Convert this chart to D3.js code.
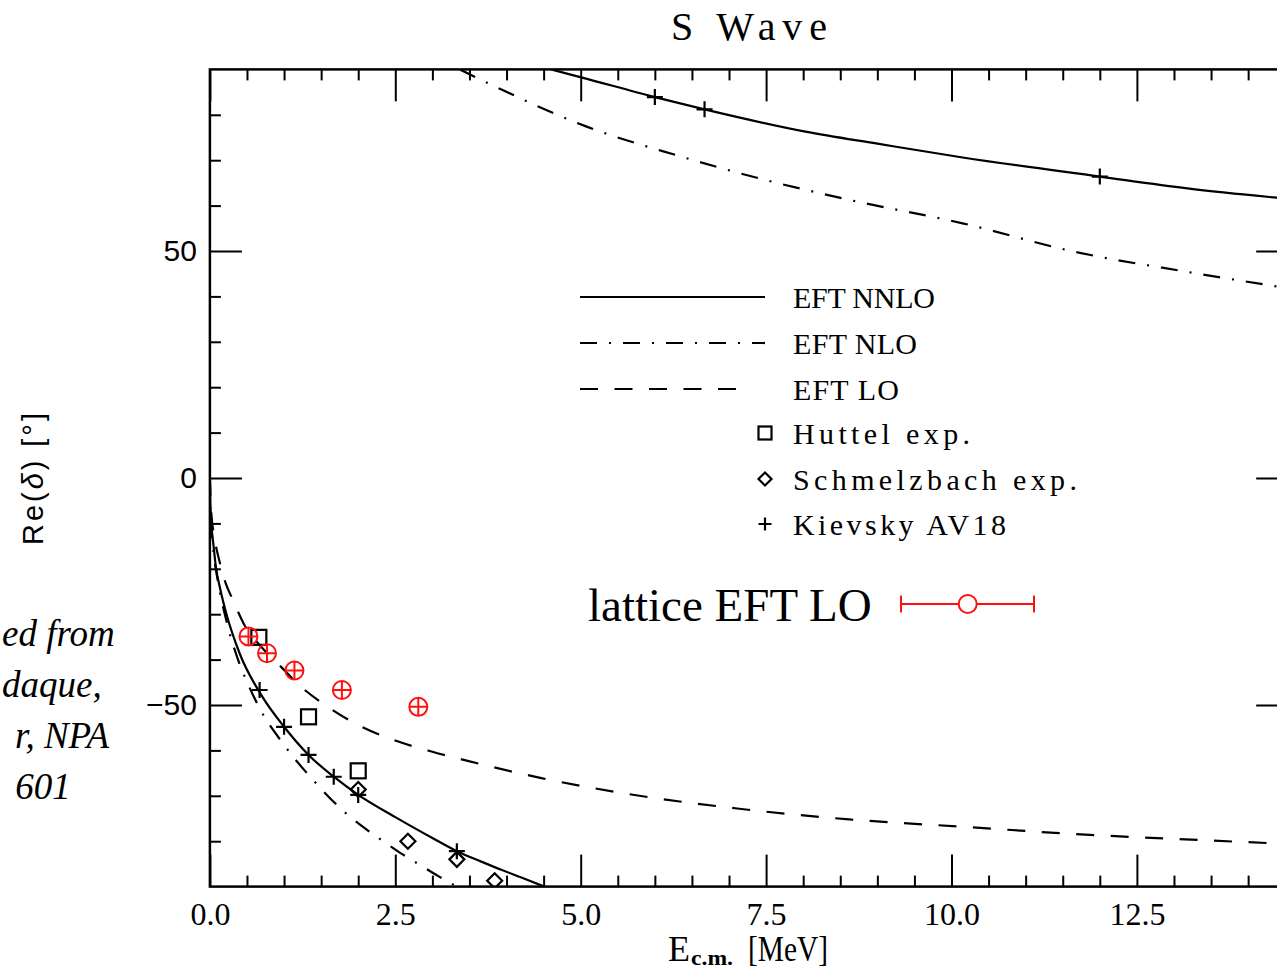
<!DOCTYPE html>
<html>
<head>
<meta charset="utf-8">
<script src="https://cdn.jsdelivr.net/npm/d3@7"></script>
<style>
  html, body { margin: 0; padding: 0; background: #fff; }
  svg { display: block; }
</style>
</head>
<body>
<svg id="chart" width="1277" height="973"></svg>
<script>
// ---- axis settings ----
const xMax = 14.54;
const yMin = -90, yMax = 90;
const xTicksMajor = [0, 2.5, 5, 7.5, 10, 12.5];
const xTickLabels = ["0.0", "2.5", "5.0", "7.5", "10.0", "12.5"];
const yTicksMajor = [-50, 0, 50];
const yTickLabels = ["\u221250", "0", "50"];

// ---- EFT curves: [E_cm (MeV), Re(delta) (deg)] ----
const eftNNLOLow = [[0,0],[0.005,-5],[0.02,-10],[0.05,-15],[0.08,-19.5],[0.14,-24.5],[0.22,-29.8],[0.4,-38.6],[0.7,-48],[1.0,-54.8],[1.33,-61],[1.67,-65.8],[2.0,-69.8],[2.5,-74.7],[3.0,-79.3],[3.33,-82.2],[3.66,-84.5],[3.93,-86.3],[4.2,-88],[4.51,-90]];
const eftNNLOHigh = [[4.6,90],[5.02,88.2],[6.0,83.9],[6.67,81.2],[8.03,76.3],[9.02,73.6],[10.15,70.6],[12.0,66.4],[13.18,63.8],[14.54,61.5]];
const eftNLOLow = [[0,0],[0.005,-5.5],[0.02,-11],[0.05,-16.5],[0.1,-22],[0.22,-31.3],[0.39,-40.5],[0.53,-46],[0.67,-50.7],[1.0,-58.8],[1.39,-66.5],[1.81,-73.5],[2.06,-76.8],[2.31,-79.7],[2.56,-82.5],[2.83,-85.2],[3.08,-87.7],[3.33,-90]];
const eftNLOHigh = [[3.37,90],[3.94,85.5],[5.08,77.4],[6.29,71.1],[7.5,65.6],[8.64,61.2],[10.15,56.1],[11.67,49.8],[13.18,45.4],[14.54,41.8]];
const eftLO = [[0,0],[0.005,-4],[0.02,-8],[0.06,-13],[0.13,-18.4],[0.22,-23.5],[0.3,-26.5],[0.46,-32.2],[0.71,-37.5],[0.96,-41.6],[1.23,-46],[1.59,-50.4],[1.95,-54],[2.53,-58],[3.0,-60.3],[3.45,-62.2],[4.47,-66.1],[5.6,-69.5],[7.11,-72.8],[8.62,-75.2],[10.13,-76.8],[11.64,-78.4],[13.15,-79.6],[14.54,-80.6]];

// ---- data points ----
const huttelE = [0.66, 1.33, 2.0];
const huttelD = [-35.1, -52.6, -64.5];
const schmelzE = [2.0, 2.67, 3.33, 3.84];
const schmelzD = [-68.6, -80, -84, -88.7];
const kievskyE = [0.67, 1.0, 1.33, 1.67, 2.0, 3.33, 6.0, 6.67, 12.0];
const kievskyD = [-46.7, -54.8, -61, -65.8, -69.8, -82.2, 83.9, 81.2, 66.4];
const latticeE = [0.52, 0.77, 1.14, 1.78, 2.81];
const latticeD = [-34.9, -38.6, -42.4, -46.7, -50.4];

const legendLines = ["EFT NNLO", "EFT NLO", "EFT LO"];
const legendMarkers = ["Huttel exp.", "Schmelzbach exp.", "Kievsky AV18"];

// ---- layout ----
const svg = d3.select("#chart");
const plotLeft = 209.9, plotTop = 69.4, pxPerMeV = 74.16, plotBottom = 886.6;
const x = d3.scaleLinear().domain([0, xMax]).range([plotLeft, plotLeft + xMax * pxPerMeV]);
const y = d3.scaleLinear().domain([yMin, yMax]).range([plotBottom, plotTop]);
const plotRight = x(xMax);

svg.append("rect").attr("width", 1277).attr("height", 973).attr("fill", "#fff");

svg.append("defs").append("clipPath").attr("id", "plotclip")
  .append("rect").attr("x", plotLeft).attr("y", plotTop)
  .attr("width", plotRight - plotLeft).attr("height", plotBottom - plotTop);

const black = "#000";
const red = "#ff1010";

// ---- axes ----
const minorX = d3.range(0, xMax + 1e-9, 0.5).filter(v => !xTicksMajor.includes(v));
const minorY = d3.range(-90, 90.001, 10).filter(v => !yTicksMajor.includes(v) && v > -90 && v < 90);

function styleAxis(g) {
  g.select(".domain").remove();
  g.selectAll(".tick line").attr("stroke", black).attr("stroke-width", 2);
}

const gxB = svg.append("g").attr("transform", `translate(0,${plotBottom})`)
  .call(d3.axisBottom(x).tickValues(xTicksMajor).tickSize(-32).tickPadding(16)
    .tickFormat((d, i) => xTickLabels[i]));
styleAxis(gxB);
gxB.selectAll("text").attr("font-family", "Liberation Serif, serif").attr("font-size", 32).attr("fill", black);

svg.append("g").attr("transform", `translate(0,${plotBottom})`)
  .call(d3.axisBottom(x).tickValues(minorX).tickSize(-11).tickFormat("")).call(styleAxis);
svg.append("g").attr("transform", `translate(0,${plotTop})`)
  .call(d3.axisTop(x).tickValues(xTicksMajor).tickSize(-32).tickFormat("")).call(styleAxis);
svg.append("g").attr("transform", `translate(0,${plotTop})`)
  .call(d3.axisTop(x).tickValues(minorX).tickSize(-11).tickFormat("")).call(styleAxis);

const gyL = svg.append("g").attr("transform", `translate(${plotLeft},0)`)
  .call(d3.axisLeft(y).tickValues(yTicksMajor).tickSize(-32).tickPadding(13)
    .tickFormat(d => yTickLabels[yTicksMajor.indexOf(d)]));
styleAxis(gyL);
gyL.selectAll("text").attr("font-family", "Liberation Sans, Arial, sans-serif").attr("font-size", 30).attr("fill", black);

svg.append("g").attr("transform", `translate(${plotLeft},0)`)
  .call(d3.axisLeft(y).tickValues(minorY).tickSize(-11).tickFormat("")).call(styleAxis);
svg.append("g").attr("transform", `translate(${plotRight},0)`)
  .call(d3.axisRight(y).tickValues(yTicksMajor).tickSize(-32).tickFormat("")).call(styleAxis);
svg.append("g").attr("transform", `translate(${plotRight},0)`)
  .call(d3.axisRight(y).tickValues(minorY).tickSize(-11).tickFormat("")).call(styleAxis);

// frame
svg.append("rect").attr("x", plotLeft).attr("y", plotTop)
  .attr("width", plotRight - plotLeft).attr("height", plotBottom - plotTop)
  .attr("fill", "none").attr("stroke", black).attr("stroke-width", 2.5);

// ---- curves ----
const line = d3.line().x(d => x(d[0])).y(d => y(d[1])).curve(d3.curveMonotoneX);
const plot = svg.append("g").attr("clip-path", "url(#plotclip)");
const dashNLO = "17,12,2,12";
const dashLO = "18,16.5";

[[eftNNLOLow, null], [eftNNLOHigh, null], [eftNLOLow, dashNLO], [eftNLOHigh, dashNLO], [eftLO, dashLO]]
  .forEach(([data, dash]) => {
    plot.append("path").datum(data).attr("d", line)
      .attr("fill", "none").attr("stroke", black).attr("stroke-width", 2.2)
      .attr("stroke-dasharray", dash);
  });

// ---- markers ----
function square(g, cx, cy, s) {
  g.append("rect").attr("x", cx - s / 2).attr("y", cy - s / 2).attr("width", s).attr("height", s)
    .attr("fill", "none").attr("stroke", black).attr("stroke-width", 2.2);
}
function diamond(g, cx, cy, r) {
  g.append("path").attr("d", `M${cx},${cy - r}L${cx + r},${cy}L${cx},${cy + r}L${cx - r},${cy}Z`)
    .attr("fill", "none").attr("stroke", black).attr("stroke-width", 2.2);
}
function plus(g, cx, cy, r) {
  g.append("path").attr("d", `M${cx - r},${cy}H${cx + r}M${cx},${cy - r}V${cy + r}`)
    .attr("fill", "none").attr("stroke", black).attr("stroke-width", 2.2);
}
function latticeMark(g, cx, cy, r) {
  g.append("circle").attr("cx", cx).attr("cy", cy).attr("r", r)
    .attr("fill", "none").attr("stroke", red).attr("stroke-width", 2);
  g.append("path").attr("d", `M${cx - r},${cy}H${cx + r}M${cx},${cy - r}V${cy + r}`)
    .attr("fill", "none").attr("stroke", red).attr("stroke-width", 2);
}

const marks = svg.append("g").attr("clip-path", "url(#plotclip)");
huttelE.forEach((e, i) => square(marks, x(e), y(huttelD[i]), 15));
schmelzE.forEach((e, i) => diamond(marks, x(e), y(schmelzD[i]), 7.5));
kievskyE.forEach((e, i) => plus(marks, x(e), y(kievskyD[i]), 8));
latticeE.forEach((e, i) => latticeMark(marks, x(e), y(latticeD[i]), 9));

// ---- legend ----
const serifText = "Liberation Serif, Times New Roman, serif";
const leg = svg.append("g");
const rowY = [298, 344, 390, 434, 480, 525];
const legendDash = [null, dashNLO, dashLO];
const legendEnd = [765, 765, 750];
legendLines.forEach((t, i) => {
  leg.append("line").attr("x1", 580).attr("x2", legendEnd[i]).attr("y1", rowY[i] - 1).attr("y2", rowY[i] - 1)
    .attr("stroke", black).attr("stroke-width", 2.2).attr("stroke-dasharray", legendDash[i]);
});
square(leg, 765, 433, 13);
diamond(leg, 765, 479, 6.5);
plus(leg, 765, 524, 6.5);
const legTexts = legendLines.concat(legendMarkers);
const legWidths = [142, 124, 106, 177, 284, 213];
legTexts.forEach((t, i) => {
  leg.append("text").attr("x", 793).attr("y", rowY[i] + 10)
    .attr("font-family", serifText).attr("font-size", 30).attr("fill", black)
    .attr("textLength", legWidths[i]).attr("lengthAdjust", "spacing")
    .text(t);
});

// lattice legend entry
svg.append("text").attr("x", 588).attr("y", 621)
  .attr("font-family", serifText).attr("font-size", 47).attr("fill", black)
  .text("lattice EFT LO");
const lx0 = 901, lx1 = 1034, lcx = 967.7, ly = 604;
leg.append("path").attr("d", `M${lx0},${ly}H${lx1}M${lx0},${ly - 8.5}V${ly + 8.5}M${lx1},${ly - 8.5}V${ly + 8.5}`)
  .attr("fill", "none").attr("stroke", red).attr("stroke-width", 2);
leg.append("circle").attr("cx", lcx).attr("cy", ly).attr("r", 9)
  .attr("fill", "#fff").attr("stroke", red).attr("stroke-width", 2);

// ---- titles ----
svg.append("text").attr("x", 671).attr("y", 40)
  .attr("font-family", serifText).attr("font-size", 40).attr("fill", black)
  .attr("textLength", 156).attr("lengthAdjust", "spacing")
  .text("S Wave");

const xl = svg.append("g").attr("font-family", serifText).attr("fill", black);
xl.append("text").attr("x", 668).attr("y", 961).attr("font-size", 36)
  .attr("textLength", 22).attr("lengthAdjust", "spacingAndGlyphs").text("E");
xl.append("text").attr("x", 691).attr("y", 965).attr("font-size", 20).attr("font-weight", "bold")
  .attr("textLength", 42).attr("lengthAdjust", "spacingAndGlyphs").text("c.m.");
xl.append("text").attr("x", 748).attr("y", 961).attr("font-size", 36)
  .attr("textLength", 80).attr("lengthAdjust", "spacingAndGlyphs").text("[MeV]");

const yl = svg.append("text").attr("transform", "translate(43,479) rotate(-90)")
  .attr("text-anchor", "middle").attr("font-family", "Liberation Sans, Arial, sans-serif")
  .attr("font-size", 29).attr("fill", black)
  .attr("textLength", 132).attr("lengthAdjust", "spacing");
yl.append("tspan").text("Re(");
yl.append("tspan").attr("font-style", "italic").text("\u03b4");
yl.append("tspan").text(") [\u00b0]");

// ---- side note at the left margin ----
const note = svg.append("g").attr("font-family", serifText).attr("font-style", "italic")
  .attr("font-size", 37).attr("fill", black);
note.append("text").attr("x", 2).attr("y", 646).text("ed from");
note.append("text").attr("x", 2).attr("y", 697).text("daque,");
note.append("text").attr("x", 109).attr("y", 748).attr("text-anchor", "end").text("r, NPA");
note.append("text").attr("x", 43).attr("y", 799).attr("text-anchor", "middle").text("601");
</script>
</body>
</html>
